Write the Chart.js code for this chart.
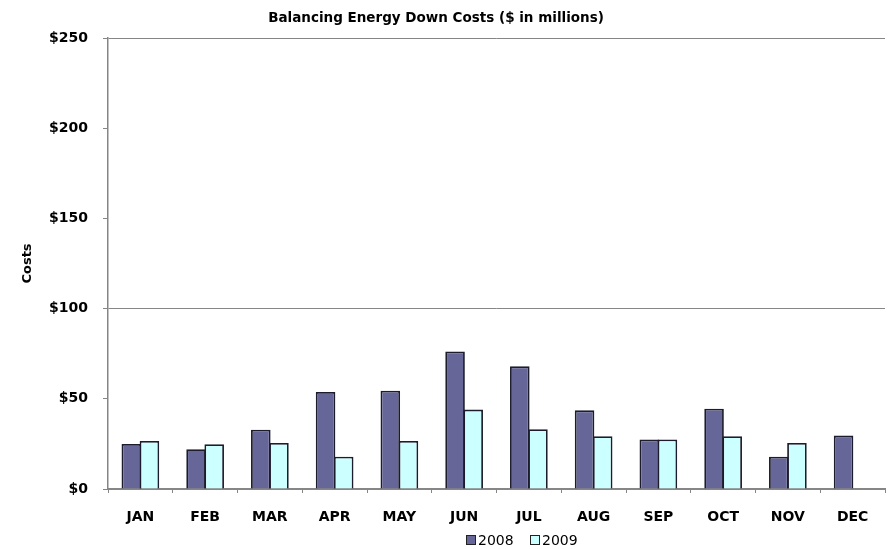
<!DOCTYPE html>
<html>
<head>
<meta charset="utf-8">
<script src="https://cdn.jsdelivr.net/npm/chart.js@4/dist/chart.umd.min.js"></script>
<style>
  html, body { margin: 0; padding: 0; background: #fff; }
  #wrap { width: 890px; height: 549px; position: relative; }
</style>
</head>
<body>
<div id="wrap"><canvas id="chart"></canvas></div>
<script>
// Data (values in $ millions)
const months = ['JAN', 'FEB', 'MAR', 'APR', 'MAY', 'JUN', 'JUL', 'AUG', 'SEP', 'OCT', 'NOV', 'DEC'];
const costs2008 = [25, 22, 32.9, 53.8, 54.5, 76.2, 68, 43.6, 27.4, 44.5, 17.9, 29.6];
const costs2009 = [26.6, 24.8, 25.5, 17.9, 26.6, 44, 33.1, 29.2, 27.4, 29.2, 25.5, null];
const yTicks = [0, 50, 100, 150, 200, 250];

const chartTitle = 'Balancing Energy Down Costs ($ in millions)';
const AXIS_GREY = '#868686';
const FONT = '"DejaVu Sans", sans-serif';

// -----------------------------------------------------------------------------
// Title + legend drawn at fixed spots (the reference has them off-centre)
// -----------------------------------------------------------------------------

const _decorPlugin = {
  id: 'decor',
  afterDraw(chart) {
    const ctx = chart.ctx;
    ctx.save();
    ctx.fillStyle = '#000';
    ctx.textBaseline = 'middle';
    ctx.textAlign = 'center';
    ctx.font = `bold 13.5px ${FONT}`;
    ctx.fillText(chartTitle, 436, 18);

    // legend
    ctx.font = `14px ${FONT}`;
    ctx.textAlign = 'left';
    let x = 466;
    const y = 540;
    chart.data.datasets.forEach((ds) => {
      ctx.fillStyle = ds.backgroundColor;
      ctx.fillRect(x, y - 5, 10, 10);
      ctx.strokeStyle = '#222';
      ctx.lineWidth = 1;
      ctx.strokeRect(x + 0.5, y - 4.5, 9, 9);
      ctx.fillStyle = '#000';
      ctx.fillText(ds.label, x + 12, y + 1);
      x += 64;
    });
    ctx.restore();
  },
};

new Chart(document.getElementById('chart'), {
  type: 'bar',
  data: {
    labels: months,
    datasets: [
      {
        label: '2008',
        data: costs2008,
        backgroundColor: '#666699',
        borderColor: '#1c1c2c',
        borderWidth: 1.8,
        categoryPercentage: 0.56,
        barPercentage: 1.08,
      },
      {
        label: '2009',
        data: costs2009,
        backgroundColor: '#CCFFFF',
        borderColor: '#1c1c2c',
        borderWidth: 1.8,
        categoryPercentage: 0.56,
        barPercentage: 1.08,
      },
    ],
  },
  options: {
    responsive: true,
    maintainAspectRatio: false,
    animation: false,
    layout: { padding: { top: 38, right: 5, bottom: 0, left: 0 } },
    plugins: {
      legend: { display: false },
      title: { display: false },
      tooltip: { enabled: false },
    },
    scales: {
      x: {
        afterFit(scale) { scale.height = 60; },
        grid: {
          offset: true,
          drawOnChartArea: true,
          color: (c) => (c.index === months.length ? AXIS_GREY : 'rgba(0,0,0,0)'),
          tickColor: AXIS_GREY,
          tickLength: 4,
          lineWidth: 1,
        },
        border: { display: true, color: AXIS_GREY, width: 2 },
        ticks: {
          color: '#000',
          padding: 16,
          font: { family: FONT, size: 14, weight: 'bold' },
        },
      },
      y: {
        min: 0,
        max: 250,
        afterFit(scale) { scale.width = 108; },
        afterBuildTicks(scale) { scale.ticks = yTicks.map((v) => ({ value: v })); },
        grid: {
          color: (c) => (c.tick && (c.tick.value === 100 || c.tick.value === 250) ? AXIS_GREY : 'rgba(0,0,0,0)'),
          tickColor: AXIS_GREY,
          tickLength: 5,
          lineWidth: 1,
        },
        border: { display: true, color: AXIS_GREY, width: 1.5 },
        ticks: {
          color: '#000',
          padding: 15,
          font: { family: FONT, size: 14, weight: 'bold' },
          callback: (v) => '$' + v,
        },
        title: {
          display: true,
          text: 'Costs',
          color: '#000',
          padding: { top: 20, bottom: 0 },
          font: { family: FONT, size: 13, weight: 'bold' },
        },
      },
    },
  },
  plugins: [_decorPlugin],
});
</script>
</body>
</html>
